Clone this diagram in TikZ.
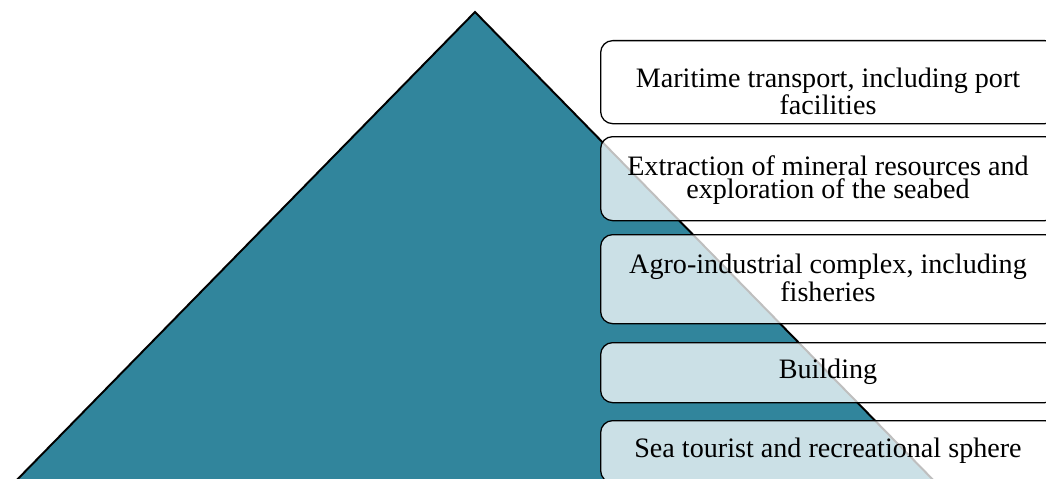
\documentclass[tikz,border=0pt]{standalone}
\usepackage{fontspec}
\setmainfont{Liberation Serif}
\usetikzlibrary{positioning}
\definecolor{seateal}{HTML}{31859C}

\tikzset{
	sectorbox/.style={draw=black, line width=0.9pt, fill=white, fill opacity=0.75, rounded corners=0.3cm, minimum width=11.4cm, anchor=north west, inner sep=0pt},
	sectorlabel/.style={align=center, inner sep=0pt, font=\fontsize{20}{15.8}\selectfont}
}

\begin{document}
\begin{tikzpicture}[x=0.025cm, y=-0.025cm]
	% Frame
	\useasboundingbox (0,0) rectangle (1046,479);
	\clip (0,0) rectangle (1046,479);

	% Pyramid
	\draw[fill=seateal, line width=1.4pt] (475,12) -- (943,490) -- (7,490) -- cycle;

	% Sector boxes
	\node[sectorbox, minimum height=2.075cm] (transport) at (600,40) {};
	\node[sectorbox, minimum height=2.1cm] (mining) at (600,136) {};
	\node[sectorbox, minimum height=2.225cm] (agro) at (600,234) {};
	\node[sectorbox, minimum height=1.5cm] (building) at (600,342) {};
	\node[sectorbox, minimum height=1.55cm] (tourism) at (600,420) {};

	% Labels
	\node[sectorlabel] (transportlab) at (828,91.4) {Maritime transport, including port\\facilities};
	\node[sectorlabel] (mininglab) at (828,180) {Extraction of mineral resources and\\exploration of the seabed};
	\node[sectorlabel] (agrolab) at (828,278) {Agro-industrial complex, including\\fisheries};
	\node[sectorlabel] (buildinglab) at (828,371.5) {Building};
	\node[sectorlabel] (tourismlab) at (828,450.5) {Sea tourist and recreational sphere};
\end{tikzpicture}
\end{document}
